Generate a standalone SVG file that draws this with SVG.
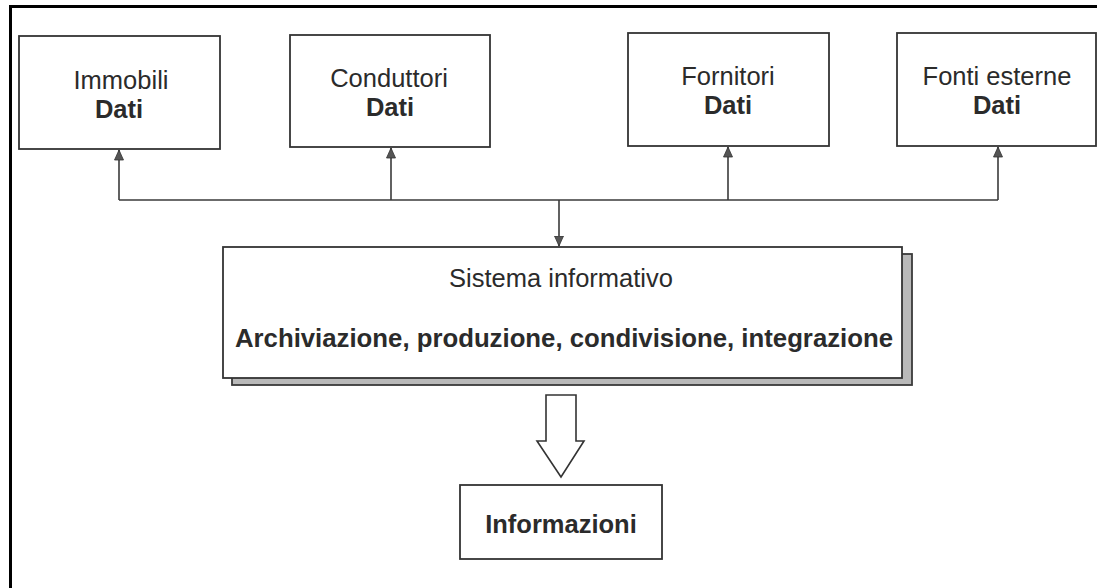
<svg xmlns="http://www.w3.org/2000/svg" width="1097" height="588" viewBox="0 0 1097 588">
  <style>
    .box { fill: #ffffff; stroke: #333333; stroke-width: 1.8; }
    .shadow { fill: #b9b9b9; stroke: #3a3a3a; stroke-width: 1.8; }
    .frame { stroke: #000000; stroke-width: 3; fill: none; }
    .wire { fill: none; stroke: #3a3a3a; stroke-width: 1.6; }
    .txt { font-family: "Liberation Sans", Arial, sans-serif; font-size: 25.5px; fill: #2b2b2b; text-anchor: middle; }
    .bold { font-weight: bold; }
    .hollow { fill: #ffffff; stroke: #333333; stroke-width: 1.6; stroke-linejoin: miter; }
  </style>
  <defs>
    <marker id="tip" viewBox="0 0 10 16" refX="10" refY="8" markerWidth="11" markerHeight="16" markerUnits="userSpaceOnUse" orient="auto">
      <path d="M0,3.5 L10,8 L0,12.5 Z" fill="#555555" stroke="#333333" stroke-width="0.8"/>
    </marker>
  </defs>

  <rect width="1097" height="588" fill="#ffffff"/>

  <!-- page frame: left and top rules only -->
  <g id="frame">
    <line class="frame" x1="10.5" y1="5" x2="10.5" y2="588"/>
    <line class="frame" x1="9" y1="6.5" x2="1097" y2="6.5"/>
  </g>

  <g id="immobili">
    <rect class="box" x="19" y="36" width="201" height="113"/>
    <text class="txt" x="121" y="89">Immobili</text>
    <text class="txt bold" x="119" y="118">Dati</text>
  </g>

  <g id="conduttori">
    <rect class="box" x="290" y="35" width="200" height="112"/>
    <text class="txt" x="389" y="87">Conduttori</text>
    <text class="txt bold" x="390" y="116">Dati</text>
  </g>

  <g id="fornitori">
    <rect class="box" x="628" y="33" width="201" height="113"/>
    <text class="txt" x="728" y="85">Fornitori</text>
    <text class="txt bold" x="728" y="114">Dati</text>
  </g>

  <g id="fonti-esterne">
    <rect class="box" x="897" y="33" width="199" height="113"/>
    <text class="txt" x="997" y="85">Fonti esterne</text>
    <text class="txt bold" x="997" y="114">Dati</text>
  </g>

  <g id="sistema-informativo">
    <rect class="shadow" x="232" y="254" width="680" height="131"/>
    <rect class="box" x="223" y="247" width="679" height="131"/>
    <text class="txt" x="561" y="287">Sistema informativo</text>
    <text class="txt bold" x="564" y="347" textLength="658" lengthAdjust="spacingAndGlyphs">Archiviazione, produzione, condivisione, integrazione</text>
  </g>

  <g id="informazioni">
    <rect class="box" x="460" y="485" width="202" height="74"/>
    <text class="txt bold" x="561" y="533">Informazioni</text>
  </g>

  <g id="connectors">
    <!-- distribution bus -->
    <line class="wire" x1="119" y1="200" x2="998" y2="200"/>
    <line class="wire" x1="119" y1="200" x2="119" y2="150" marker-end="url(#tip)"/>
    <line class="wire" x1="391" y1="200" x2="391" y2="148" marker-end="url(#tip)"/>
    <line class="wire" x1="728" y1="200" x2="728" y2="147" marker-end="url(#tip)"/>
    <line class="wire" x1="998" y1="200" x2="998" y2="147" marker-end="url(#tip)"/>
    <line class="wire" x1="559" y1="200" x2="559" y2="246" marker-end="url(#tip)"/>
    <!-- block arrow towards the output -->
    <path class="hollow" d="M546,395 L576,395 L576,441 L584,441 L561,477 L537,441 L546,441 Z"/>
  </g>
</svg>
